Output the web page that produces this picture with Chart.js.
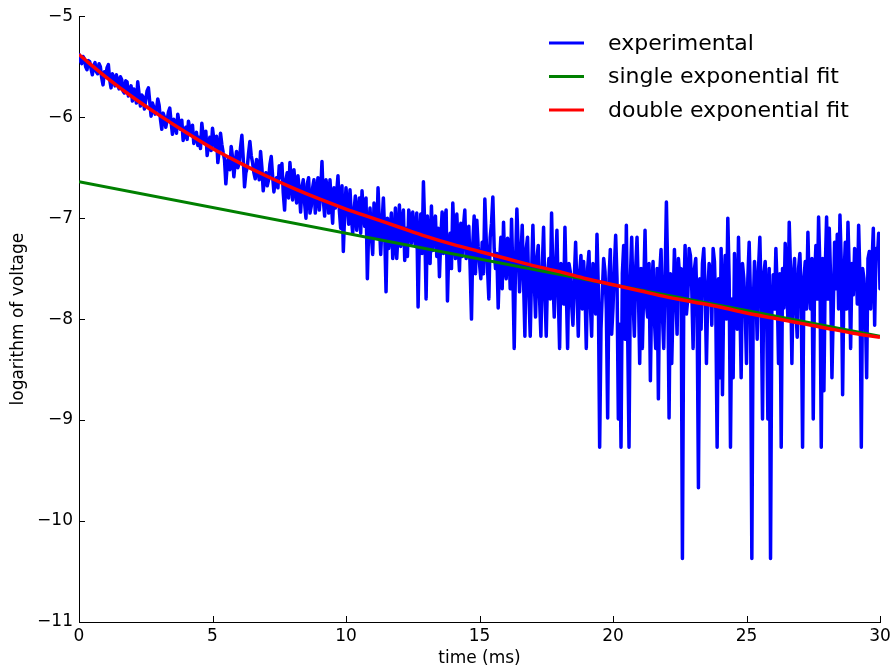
<!DOCTYPE html>
<html>
<head>
<meta charset="utf-8">
<script src="https://cdn.jsdelivr.net/npm/chart.js@4.4.1/dist/chart.umd.min.js"></script>
<style>
  html, body { margin: 0; padding: 0; background: #fff; }
  canvas { display: block; }
</style>
</head>
<body>
<canvas id="decayChart" width="896" height="671"></canvas>
<script>
// sampling interval of the recorded trace (ms)
const sampleStep = 0.05;

// experimental trace, log of voltage, one value per 0.05 ms from 0 to 30 ms
// (each row is half a millisecond)
const experimental = [
  -5.38, -5.44, -5.47, -5.40, -5.42, -5.50, -5.53, -5.44, -5.45, -5.52,
  -5.58, -5.49, -5.46, -5.55, -5.57, -5.47, -5.50, -5.61, -5.68, -5.55,
  -5.60, -5.51, -5.48, -5.63, -5.71, -5.57, -5.62, -5.69, -5.58, -5.66,
  -5.72, -5.60, -5.63, -5.74, -5.76, -5.64, -5.65, -5.79, -5.73, -5.69,
  -5.84, -5.72, -5.76, -5.86, -5.65, -5.77, -5.89, -5.78, -5.80, -5.92,
  -5.83, -5.74, -5.71, -5.85, -5.99, -5.86, -5.90, -5.97, -5.93, -5.82,
  -5.88, -6.02, -6.12, -5.96, -6.00, -6.10, -6.03, -5.95, -5.91, -6.05,
  -6.17, -6.02, -6.08, -6.16, -5.97, -6.06, -6.12, -6.03, -6.23, -6.14,
  -6.10, -6.22, -6.04, -6.12, -6.18, -6.08, -6.26, -6.19, -6.15, -6.28,
  -6.20, -6.31, -6.06, -6.18, -6.25, -6.14, -6.38, -6.27, -6.20, -6.33,
  -6.11, -6.22, -6.30, -6.19, -6.45, -6.33, -6.16, -6.27, -6.35, -6.42,
  -6.66, -6.48, -6.40, -6.52, -6.29, -6.40, -6.59, -6.45, -6.34, -6.50,
  -6.45, -6.30, -6.18, -6.40, -6.69, -6.55, -6.50, -6.36, -6.24, -6.38,
  -6.45, -6.55, -6.61, -6.42, -6.52, -6.62, -6.34, -6.50, -6.73, -6.60,
  -6.55, -6.68, -6.62, -6.47, -6.39, -6.58, -6.74, -6.63, -6.60, -6.70,
  -6.48, -6.60, -6.46, -6.75, -6.92, -6.62, -6.55, -6.80, -6.45, -6.63,
  -6.82, -6.52, -6.68, -6.85, -6.58, -6.72, -6.94, -6.70, -6.62, -6.85,
  -7.00, -6.66, -6.60, -6.95, -6.88, -6.70, -6.62, -6.95, -6.76, -6.60,
  -6.92, -6.75, -6.44, -6.82, -6.98, -6.62, -6.70, -6.95, -6.62, -6.85,
  -7.05, -6.70, -6.90, -6.75, -6.58, -6.92, -7.10, -6.68, -7.33, -6.95,
  -6.70, -6.88, -7.06, -6.72, -6.98, -7.15, -6.93, -6.78, -7.12, -6.95,
  -6.80, -7.15, -6.73, -6.95, -7.08, -6.80, -7.60, -7.10, -6.90, -7.18,
  -7.36, -6.85, -7.00, -7.20, -6.70, -7.05, -7.36, -7.05, -6.80, -7.15,
  -7.73, -7.00, -7.30, -7.12, -6.95, -7.40, -7.27, -6.90, -7.40, -7.15,
  -6.87, -7.28, -7.05, -6.92, -7.42, -7.10, -7.38, -6.92, -7.00, -7.25,
  -6.94, -7.12, -7.28, -6.95, -7.88, -7.20, -6.96, -7.35, -6.64, -7.10,
  -7.80, -6.98, -7.22, -7.45, -6.88, -7.32, -7.05, -6.98, -7.38, -7.10,
  -7.58, -7.20, -6.94, -7.35, -7.02, -6.92, -7.82, -7.30, -7.15, -7.50,
  -6.85, -7.20, -7.40, -6.96, -7.28, -7.52, -7.05, -7.38, -7.08, -6.92,
  -7.40, -7.22, -7.08, -7.50, -8.00, -7.25, -6.98, -7.55, -7.02, -7.28,
  -7.45, -7.60, -7.24, -7.55, -6.81, -7.20, -7.50, -7.80, -7.19, -7.05,
  -6.79, -7.30, -7.50, -7.35, -7.89, -7.45, -7.19, -7.70, -7.04, -7.50,
  -7.60, -7.20, -7.24, -7.70, -7.01, -7.55, -8.29, -7.45, -6.91, -7.30,
  -7.73, -7.40, -7.07, -7.62, -8.17, -7.30, -7.19, -7.75, -8.17, -7.55,
  -7.07, -7.62, -7.98, -7.40, -7.27, -7.80, -8.17, -7.50, -7.09, -7.75,
  -8.17, -7.55, -7.40, -7.80, -6.95, -7.60, -7.98, -7.50, -7.12, -7.75,
  -8.29, -7.45, -7.60, -7.85, -7.09, -7.70, -8.29, -7.45, -7.53, -7.85,
  -8.06, -7.60, -7.24, -7.70, -8.17, -7.55, -7.37, -7.90, -7.43, -7.70,
  -8.29, -7.50, -7.33, -7.85, -8.17, -7.45, -7.53, -7.95, -7.16, -7.70,
  -9.27, -8.10, -7.73, -7.40, -7.53, -7.90, -8.98, -7.60, -7.31, -8.15,
  -7.89, -7.50, -7.17, -7.60, -8.99, -8.05, -9.27, -7.55, -7.27, -8.20,
  -7.07, -8.15, -9.27, -7.60, -7.19, -7.80, -8.17, -7.50, -7.19, -7.70,
  -8.44, -7.50, -8.29, -7.70, -7.12, -7.85, -7.98, -7.45, -8.61, -7.70,
  -7.43, -8.00, -8.29, -7.50, -8.79, -7.55, -7.31, -7.95, -8.29, -7.60,
  -6.84, -7.55, -8.98, -7.55, -8.44, -7.85, -7.31, -7.70, -8.15, -7.40,
  -7.60, -7.50, -10.37, -7.80, -7.27, -7.95, -7.80, -7.30, -7.37, -7.70,
  -8.29, -7.50, -7.40, -7.90, -9.67, -7.60, -8.10, -7.45, -7.30, -7.70,
  -8.44, -7.75, -7.45, -7.55, -8.06, -7.30, -7.43, -7.90, -9.27, -7.60,
  -8.58, -7.30, -8.75, -7.70, -7.37, -8.00, -7.00, -7.60, -9.27, -7.80,
  -8.58, -7.35, -7.76, -8.10, -7.19, -7.80, -8.58, -7.45, -7.60, -7.90,
  -8.44, -7.60, -7.24, -7.80, -10.37, -7.90, -7.43, -7.70, -8.20, -7.50,
  -7.19, -7.80, -8.99, -7.55, -7.43, -7.80, -8.99, -7.50, -10.37, -7.90,
  -7.56, -7.90, -7.30, -7.70, -8.44, -7.55, -9.27, -7.50, -7.89, -7.25,
  -7.60, -8.00, -7.04, -7.55, -8.44, -7.60, -7.40, -7.90, -8.18, -7.50,
  -7.35, -7.80, -9.27, -7.60, -7.43, -7.90, -7.14, -7.70, -7.90, -7.40,
  -8.99, -7.60, -7.27, -7.80, -6.99, -7.50, -9.27, -7.40, -8.71, -7.50,
  -6.99, -7.80, -7.10, -7.60, -8.58, -7.90, -7.24, -7.70, -7.16, -7.90,
  -6.97, -7.45, -8.75, -7.60, -7.24, -7.90, -7.04, -7.55, -8.29, -7.45,
  -7.76, -7.30, -7.37, -7.85, -7.07, -7.60, -9.27, -7.50, -7.60, -7.90,
  -8.58, -7.40, -7.33, -7.90, -7.45, -7.10, -8.06, -7.30, -7.40, -7.15,
  -7.70
];

// single exponential fit (a straight line in log space): end points
const singleFitTimes = [0, 30];
const singleFit = [-6.64, -8.17];

// double exponential fit read at every ms
const doubleFitTimes = [
  0, 1, 2, 3, 4, 5, 6, 7, 8, 9, 10, 11, 12, 13, 14, 15,
  16, 17, 18, 19, 20, 21, 22, 23, 24, 25, 26, 27, 28, 29, 30
];
const doubleFit = [
  -5.38, -5.60, -5.80, -5.98, -6.15, -6.31, -6.45, -6.58, -6.70, -6.81, -6.91,
  -7.00, -7.09, -7.18, -7.26, -7.33, -7.40, -7.47, -7.53, -7.60, -7.66,
  -7.72, -7.78, -7.83, -7.88, -7.94, -7.99, -8.04, -8.09, -8.14, -8.18
];

const seriesLabels = ['experimental', 'single exponential fit', 'double exponential fit'];
const xTicks = [0, 5, 10, 15, 20, 25, 30];
const yTicks = [-11, -10, -9, -8, -7, -6, -5];

const FONT = 'DejaVu Sans';

function toPoints(xs, ys) {
  return ys.map((y, i) => ({ x: xs[i], y: y }));
}

const expTimes = experimental.map((v, i) => Math.round(i * sampleStep * 100) / 100);

// matplotlib style: ticks pointing into the plot
const inwardTicks = {
  id: 'inwardTicks',
  afterDraw(chart) {
    const ctx = chart.ctx;
    const area = chart.chartArea;
    const xs = chart.scales.x;
    const ys = chart.scales.y;
    ctx.save();
    ctx.strokeStyle = '#000';
    ctx.lineWidth = 1;
    ctx.beginPath();
    xTicks.forEach(v => {
      const px = Math.round(xs.getPixelForValue(v)) + 0.5;
      ctx.moveTo(px, area.bottom);
      ctx.lineTo(px, area.bottom - 6);
    });
    yTicks.forEach(v => {
      const py = Math.round(ys.getPixelForValue(v)) + 0.5;
      ctx.moveTo(area.left, py);
      ctx.lineTo(area.left + 6, py);
    });
    ctx.stroke();
    ctx.restore();
  }
};

// legend drawn inside the plot, top right, like the original
const insideLegend = {
  id: 'insideLegend',
  afterDraw(chart) {
    const ctx = chart.ctx;
    ctx.save();
    ctx.font = '22px "' + FONT + '"';
    ctx.textBaseline = 'middle';
    chart.data.datasets.forEach((ds, i) => {
      const y = 43 + i * 33.5;
      ctx.strokeStyle = ds.borderColor;
      ctx.lineWidth = 3;
      ctx.beginPath();
      ctx.moveTo(549, y);
      ctx.lineTo(584, y);
      ctx.stroke();
      ctx.fillStyle = '#000';
      ctx.fillText(ds.label, 608, y + 1);
    });
    ctx.restore();
  }
};

const ctx = document.getElementById('decayChart').getContext('2d');
new Chart(ctx, {
  type: 'line',
  data: {
    datasets: [
      {
        label: seriesLabels[0],
        data: toPoints(expTimes, experimental),
        borderColor: '#0000ff',
        borderWidth: 3.5,
        pointRadius: 0,
        tension: 0,
        borderJoinStyle: 'round',
        borderCapStyle: 'round',
        order: 3
      },
      {
        label: seriesLabels[1],
        data: toPoints(singleFitTimes, singleFit),
        borderColor: '#008000',
        borderWidth: 3,
        pointRadius: 0,
        tension: 0,
        order: 2
      },
      {
        label: seriesLabels[2],
        data: toPoints(doubleFitTimes, doubleFit),
        borderColor: '#ff0000',
        borderWidth: 3.5,
        pointRadius: 0,
        cubicInterpolationMode: 'monotone',
        order: 1
      }
    ]
  },
  options: {
    responsive: false,
    devicePixelRatio: 1,
    animation: false,
    layout: { padding: { top: 13, right: 16, left: 0, bottom: 0 } },
    plugins: {
      legend: { display: false },
      tooltip: { enabled: false }
    },
    scales: {
      x: {
        type: 'linear',
        min: 0,
        max: 30,
        grid: { display: false, drawTicks: false },
        border: { display: true, color: '#000', width: 1 },
        afterBuildTicks: scale => { scale.ticks = xTicks.map(v => ({ value: v })); },
        afterFit: scale => { scale.height = 49; },
        ticks: {
          color: '#000',
          padding: 4,
          maxRotation: 0,
          font: { family: FONT, size: 17 }
        },
        title: {
          display: true,
          text: 'time (ms)',
          color: '#000',
          font: { family: FONT, size: 17 },
          padding: { top: 0, bottom: 2 }
        }
      },
      y: {
        type: 'linear',
        min: -11,
        max: -5,
        grid: { display: false, drawTicks: false },
        border: { display: true, color: '#000', width: 1 },
        afterBuildTicks: scale => { scale.ticks = yTicks.map(v => ({ value: v })); },
        afterFit: scale => { scale.width = 79; },
        ticks: {
          color: '#000',
          padding: 6,
          font: { family: FONT, size: 17 },
          callback: v => (v < 0 ? '\u2212' + Math.abs(v) : String(v))
        },
        title: {
          display: true,
          text: 'logarithm of voltage',
          color: '#000',
          font: { family: FONT, size: 17 },
          padding: { top: 8, bottom: 0 }
        }
      }
    }
  },
  plugins: [inwardTicks, insideLegend]
});
</script>
</body>
</html>
